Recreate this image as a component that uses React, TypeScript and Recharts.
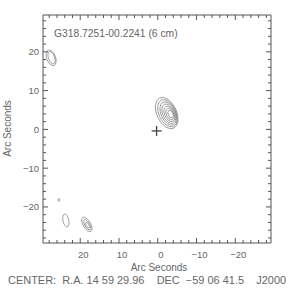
import React from "react";
import { ScatterChart, Scatter, XAxis, YAxis } from "recharts";

// contour ellipses: centre (arcsec), semi-axes (arcsec), tilt (deg)
const mainSource = [
  { x: -2.3, y: 4.2, a: 4.3, b: 2.55, ang: 25 },
  { x: -2.5, y: 4.15, a: 3.75, b: 2.2, ang: 25 },
  { x: -2.7, y: 4.1, a: 3.2, b: 1.85, ang: 25 },
  { x: -2.85, y: 4.05, a: 2.65, b: 1.55, ang: 25 },
  { x: -3.0, y: 4.0, a: 2.1, b: 1.22, ang: 25 },
  { x: -3.15, y: 3.95, a: 1.55, b: 0.92, ang: 25 },
  { x: -3.3, y: 3.95, a: 1.0, b: 0.62, ang: 25 },
];
const northSource = [
  { x: 27.5, y: 18.45, a: 2.1, b: 1.15, ang: 20 },
  { x: 27.4, y: 18.5, a: 1.65, b: 0.8, ang: 20 },
];
const southSources = [
  { x: 25.5, y: -18.2, a: 0.35, b: 0.25, ang: 0 },
  { x: 23.7, y: -23.5, a: 1.7, b: 0.75, ang: 12 },
  { x: 18.3, y: -24.5, a: 2.1, b: 0.95, ang: 30 },
  { x: 18.2, y: -24.6, a: 1.5, b: 0.6, ang: 30 },
  { x: 18.1, y: -24.7, a: 0.8, b: 0.35, ang: 30 },
];
const phaseCentre = [{ x: 0.3, y: -0.4 }];

const xDomain = [-29.2, 29.6];
const yDomain = [-29.3, 29.5];
const ticks = [-28, -26, -24, -22, -20, -18, -16, -14, -12, -10, -8, -6, -4, -2, 0, 2, 4, 6, 8, 10, 12, 14, 16, 18, 20, 22, 24, 26, 28];

const title = "G318.7251-00.2241 (6 cm)";
const axisTitle = "Arc Seconds";
const centreLine = "CENTER:  R.A. 14 59 29.96    DEC  \u221259 06 41.5    J2000";

const PLOT = 228;
const PX = PLOT / (xDomain[1] - xDomain[0]);
const INK = "#555";
const TEXT = "#666";
const FONT = "'Liberation Sans', Arial, sans-serif";
const CHAR_W = 5.15;

const fmt = (v: number) => (v < 0 ? "\u2212" + Math.abs(v) : String(v));

const makeTick = (side: string) => (props: any) => {
  const { x, y, payload } = props;
  const v = payload.value;
  const major = v % 10 === 0;
  const len = major ? 5 : 3;
  let line;
  let label = null;
  if (side === "bottom") {
    line = <line x1={x} y1={y} x2={x} y2={y - len} stroke={INK} />;
    if (major)
      label = (
        <text x={x + 3} y={y + 14.5} textAnchor="middle" fontSize={9.5} fontFamily={FONT} fill={TEXT}>
          {fmt(v)}
        </text>
      );
  } else if (side === "top") {
    line = <line x1={x} y1={y} x2={x} y2={y + len} stroke={INK} />;
  } else if (side === "left") {
    line = <line x1={x} y1={y} x2={x + len} y2={y} stroke={INK} />;
    if (major)
      label = (
        <text x={x - 4} y={y + 3.5} textAnchor="end" fontSize={9.5} fontFamily={FONT} fill={TEXT}>
          {fmt(v)}
        </text>
      );
  } else {
    line = <line x1={x} y1={y} x2={x - len} y2={y} stroke={INK} />;
  }
  return (
    <g>
      {line}
      {label}
    </g>
  );
};

const Contour = (props: any) => {
  const { cx, cy, payload } = props;
  return (
    <ellipse
      cx={cx}
      cy={cy}
      rx={payload.b * PX}
      ry={payload.a * PX}
      transform={`rotate(${-payload.ang} ${cx} ${cy})`}
      fill="none"
      stroke="#808080"
      strokeWidth={0.7}
    />
  );
};

const Cross = (props: any) => {
  const { cx, cy } = props;
  return (
    <g stroke="#444" strokeWidth={1.3}>
      <line x1={cx - 5} y1={cy} x2={cx + 5} y2={cy} />
      <line x1={cx} y1={cy - 5} x2={cx} y2={cy + 5} />
    </g>
  );
};

// text squeezed to the plot's narrow stroke-font width
const Label = ({ x, y, text, anchor = "start", transform }: any) => (
  <text
    x={x}
    y={y}
    textAnchor={anchor}
    transform={transform}
    textLength={text.length * CHAR_W}
    lengthAdjust="spacingAndGlyphs"
    xmlSpace="preserve"
    style={{ whiteSpace: "pre" }}
  >
    {text}
  </text>
);

export default function App() {
  return (
    <div style={{ position: "absolute", left: 0, top: 0, width: 288, height: 288, background: "#fff" }}>
      <ScatterChart width={288} height={288} margin={{ top: 0, right: 0, bottom: 0, left: 0 }}>
        <XAxis
          xAxisId="b"
          type="number"
          dataKey="x"
          domain={xDomain}
          allowDataOverflow
          reversed
          ticks={ticks}
          interval={0}
          height={45}
          tickSize={0}
          tickMargin={0}
          tickLine={false}
          axisLine={{ stroke: INK }}
          tick={makeTick("bottom")}
        />
        <XAxis
          xAxisId="t"
          orientation="top"
          type="number"
          dataKey="x"
          domain={xDomain}
          allowDataOverflow
          reversed
          ticks={ticks}
          interval={0}
          height={15}
          tickSize={0}
          tickMargin={0}
          tickLine={false}
          axisLine={{ stroke: INK }}
          tick={makeTick("top")}
        />
        <YAxis
          yAxisId="l"
          type="number"
          dataKey="y"
          domain={yDomain}
          allowDataOverflow
          ticks={ticks}
          interval={0}
          width={43}
          tickSize={0}
          tickMargin={0}
          tickLine={false}
          axisLine={{ stroke: INK }}
          tick={makeTick("left")}
        />
        <YAxis
          yAxisId="r"
          orientation="right"
          type="number"
          dataKey="y"
          domain={yDomain}
          allowDataOverflow
          ticks={ticks}
          interval={0}
          width={17}
          tickSize={0}
          tickMargin={0}
          tickLine={false}
          axisLine={{ stroke: INK }}
          tick={makeTick("right")}
        />
        <Scatter xAxisId="b" yAxisId="l" data={mainSource} shape={Contour} isAnimationActive={false} />
        <Scatter xAxisId="b" yAxisId="l" data={northSource} shape={Contour} isAnimationActive={false} />
        <Scatter xAxisId="b" yAxisId="l" data={southSources} shape={Contour} isAnimationActive={false} />
        <Scatter xAxisId="t" yAxisId="r" data={phaseCentre} shape={Cross} isAnimationActive={false} />
      </ScatterChart>
      <svg width={288} height={288} style={{ position: "absolute", left: 0, top: 0, pointerEvents: "none" }}>
        <g fontFamily={FONT} fontSize={10} fill={TEXT}>
          <Label x={54} y={37} text={title} />
          <Label x={159} y={271} text={axisTitle} anchor="middle" />
          <Label x={11} y={128.5} text={axisTitle} anchor="middle" transform="rotate(-90 11 128.5)" />
          <Label x={8} y={284} text={centreLine} />
        </g>
      </svg>
    </div>
  );
}
